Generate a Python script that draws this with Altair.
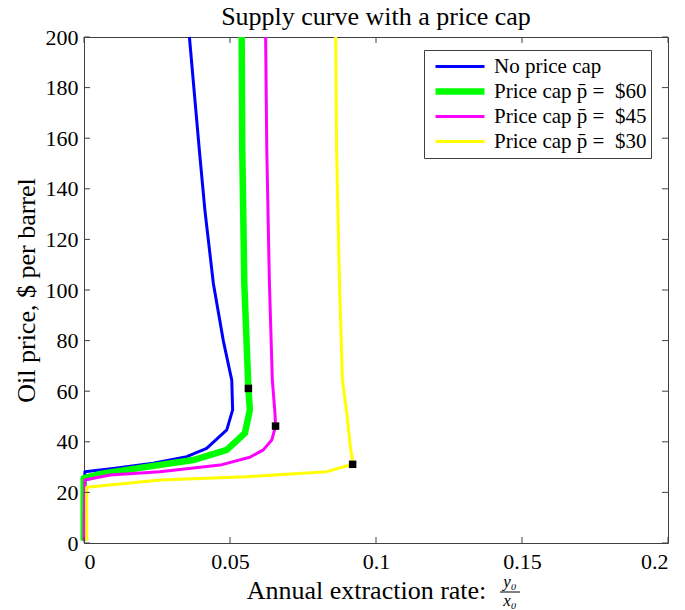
import altair as alt
import pandas as pd

# Supply curves: annual extraction rate (y0/x0) against oil price ($/barrel)
NBSP = "\u00a0"
series_names = [
    "No price cap",
    "Price cap p̄ =" + NBSP + NBSP + "$60",
    "Price cap p̄ =" + NBSP + NBSP + "$45",
    "Price cap p̄ =" + NBSP + NBSP + "$30",
]
series_colors = ["#0000ff", "#00ff00", "#ff00ff", "#ffff00"]
series_widths = [3, 6.5, 3, 3]

no_cap_price = [1, 28.2, 29.5, 31.5, 34.1, 37.4, 44.7, 52.6, 64.4, 80.0, 102.6, 131.6, 155.3, 200]
no_cap_rate = [0.0, 0.0003, 0.0100, 0.0237, 0.0352, 0.0420, 0.0489, 0.0509, 0.0506, 0.0477, 0.0443, 0.0414, 0.0395, 0.0361]

cap60_price = [1, 25.6, 27.5, 29.9, 32.8, 36.8, 43.4, 52.6, 61.1, 102.6, 155.3, 200]
cap60_rate = [-0.0001, -0.0001, 0.0066, 0.0203, 0.0374, 0.0489, 0.0551, 0.0568, 0.0563, 0.0549, 0.0542, 0.0540]

cap45_price = [1, 24.9, 26.9, 28.2, 30.8, 33.9, 36.8, 40.7, 46.2, 51.3, 64.4, 102.6, 155.3, 200]
cap45_rate = [0.0, 0.0003, 0.0089, 0.0260, 0.0466, 0.0568, 0.0614, 0.0643, 0.0656, 0.0654, 0.0645, 0.0635, 0.0626, 0.0622]

cap30_price = [1, 22.0, 24.9, 26.2, 28.2, 31.1, 33.0, 38.1, 51.3, 64.4, 102.6, 155.3, 200]
cap30_rate = [0.0009, 0.0009, 0.0260, 0.0557, 0.0831, 0.0920, 0.0919, 0.0912, 0.0900, 0.0885, 0.0875, 0.0865, 0.0862]

# Points where each cap starts to bind
kink_rate = [0.0563, 0.0656, 0.0920]
kink_price = [61.1, 46.2, 31.1]

x_ticks = [0, 0.05, 0.1, 0.15, 0.2]
y_ticks = [0, 20, 40, 60, 80, 100, 120, 140, 160, 180, 200]

W, H = 584, 506
FONT = "Liberation Serif"
AX = "#404040"

rows = []
for name, rates, prices in zip(
    series_names,
    [no_cap_rate, cap60_rate, cap45_rate, cap30_rate],
    [no_cap_price, cap60_price, cap45_price, cap30_price],
):
    for i, (r, p) in enumerate(zip(rates, prices)):
        rows.append({"series": name, "rate": r, "price": p, "step": i})
curves = pd.DataFrame(rows)

x_scale = alt.Scale(domain=[0, 0.2], nice=False, zero=False)
y_scale = alt.Scale(domain=[0, 200], nice=False, zero=False)

x_axis = alt.Axis(
    values=x_ticks, format="~g", grid=False, domain=False, ticks=False, tickSize=0,
    labelFont=FONT, labelFontSize=22, labelColor="black", labelPadding=8,
    title="Annual extraction rate:", titleFont=FONT, titleFontSize=26,
    titleFontWeight="normal", titleColor="black", titleX=282, titleY=47,
    titleBaseline="middle", titleAlign="center",
)
y_axis = alt.Axis(
    values=y_ticks, grid=False, domain=False, ticks=False, tickSize=0,
    labelFont=FONT, labelFontSize=22, labelColor="black", labelPadding=6,
    title="Oil price, $ per barrel", titleFont=FONT, titleFontSize=26,
    titleFontWeight="normal", titleColor="black", titleX=-58, titleY=253,
    titleBaseline="middle", titleAlign="center", titleAngle=270,
)

legend = alt.Legend(
    title=None, orient="none", legendX=340, legendY=13,
    fillColor="white", strokeColor=AX, padding=4,
    symbolType="stroke", symbolSize=2401, symbolOffset=4, clipHeight=25, rowPadding=0,
    labelFont=FONT, labelFontSize=21, labelColor="black", labelOffset=6,
)

color = alt.Color("series:N", scale=alt.Scale(domain=series_names, range=series_colors),
                  sort=series_names, legend=legend)
width_enc = alt.StrokeWidth("series:N",
                            scale=alt.Scale(type="ordinal", domain=series_names, range=series_widths),
                            sort=series_names, legend=legend)

base = alt.Chart(curves)
line_layers = []
for name in series_names:
    line_layers.append(
        base.transform_filter(alt.datum.series == name)
        .mark_line(clip=False, strokeJoin="round", strokeCap="butt")
        .encode(
            x=alt.X("rate:Q", scale=x_scale, axis=x_axis),
            y=alt.Y("price:Q", scale=y_scale, axis=y_axis),
            color=color,
            strokeWidth=width_enc,
            order=alt.Order("step:Q"),
        )
    )

kinks = alt.Chart(pd.DataFrame({"rate": kink_rate, "price": kink_price})).mark_square(
    size=56, color="black", opacity=1
).encode(x=alt.X("rate:Q", scale=x_scale), y=alt.Y("price:Q", scale=y_scale))

# Inward ticks on all four sides of the box
xt = pd.DataFrame({"v": x_ticks})
yt = pd.DataFrame({"v": y_ticks})
tick_style = dict(color=AX, strokeWidth=1)
ticks_bottom = alt.Chart(xt).mark_rule(**tick_style).encode(
    x=alt.X("v:Q", scale=x_scale), y=alt.value(H), y2=alt.value(H - 6))
ticks_top = alt.Chart(xt).mark_rule(**tick_style).encode(
    x=alt.X("v:Q", scale=x_scale), y=alt.value(0), y2=alt.value(6))
ticks_left = alt.Chart(yt).mark_rule(**tick_style).encode(
    y=alt.Y("v:Q", scale=y_scale), x=alt.value(0), x2=alt.value(6))
ticks_right = alt.Chart(yt).mark_rule(**tick_style).encode(
    y=alt.Y("v:Q", scale=y_scale), x=alt.value(W), x2=alt.value(W - 6))

# Fraction y0/x0 after the x-axis title
frac_top = alt.Chart(pd.DataFrame({"t": ["y₀"]})).mark_text(
    font=FONT, fontSize=17, fontStyle="italic", color="black", baseline="middle"
).encode(x=alt.value(426), y=alt.value(545), text="t:N")
frac_bar = alt.Chart(pd.DataFrame({"t": [0]})).mark_rule(color="black", strokeWidth=1).encode(
    x=alt.value(416), x2=alt.value(436), y=alt.value(555))
frac_bottom = alt.Chart(pd.DataFrame({"t": ["x₀"]})).mark_text(
    font=FONT, fontSize=17, fontStyle="italic", color="black", baseline="middle"
).encode(x=alt.value(426), y=alt.value(564), text="t:N")

chart = (
    alt.layer(*line_layers, kinks, ticks_bottom, ticks_top, ticks_left, ticks_right,
              frac_top, frac_bar, frac_bottom)
    .properties(
        width=W, height=H,
        title=alt.Title("Supply curve with a price cap", font=FONT, fontSize=26,
                        fontWeight="normal", color="black", offset=-4, anchor="middle"),
        autosize=alt.AutoSizeParams(type="none"),
        padding={"left": 84, "top": 37, "right": 17, "bottom": 67},
        background="white",
    )
    .configure_view(stroke=AX, strokeWidth=1)
)

chart.save("out.html", embed_options={"renderer": "svg", "actions": False})
